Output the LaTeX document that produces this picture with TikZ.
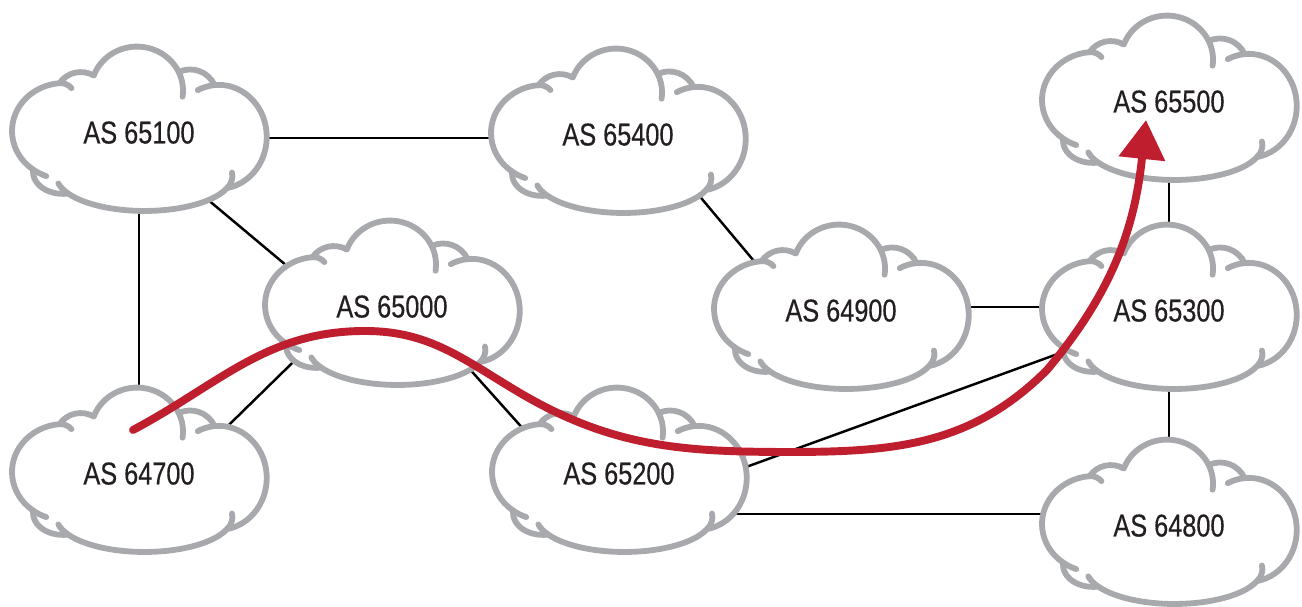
\documentclass[tikz,border=0pt]{standalone}
\usepackage{fontspec}
\newfontfamily\asfont{Liberation Sans}[FakeStretch=0.8,FakeBold=0.4]
\usetikzlibrary{arrows.meta}
\definecolor{kloudgray}{RGB}{167,169,172}
\definecolor{routered}{RGB}{190,30,45}
\definecolor{astext}{RGB}{35,31,32}
\pgfdeclarelayer{links}
\pgfdeclarelayer{clouds}
\pgfsetlayers{links,clouds,main}

\begin{document}
\begin{tikzpicture}[x=0.02cm, y=0.02cm,
	asnode/.style={ font=\asfont\fontsize{18}{20}\selectfont, text=astext, inner sep=0pt, text height=0.58cm, text depth=0pt },
	link/.style={ black, line width=1.4pt },
	route/.style={ routered, line width=4.5pt, line cap=round, -{Triangle[length=0.78cm,width=0.9cm]} },
	kloud/.pic={
		\filldraw[kloudgray, fill=white, line width=3.3pt, line join=round] (-107,-39.8)
			arc[start angle=232, end angle=95, x radius=52, y radius=48]
			arc[start angle=145, end angle=60, radius=26]
			arc[start angle=160, end angle=25, x radius=46, y radius=44]
			arc[start angle=115, end angle=25, radius=27]
			arc[start angle=95, end angle=-80, x radius=48, y radius=52]
			arc[start angle=-20, end angle=-150, x radius=88, y radius=34.8]
			arc[start angle=-80, end angle=-185, x radius=30, y radius=22] -- cycle;
		\draw[kloudgray, line width=3.3pt, line cap=round]
			(-79.5,45.8) arc[start angle=95, end angle=40, radius=14]
			(39.7,57) arc[start angle=25, end angle=-8, x radius=46, y radius=44]
			(75.6,43.9) arc[start angle=95, end angle=116, x radius=48, y radius=52]
			(88.1,-59.1) arc[start angle=-20, end angle=6, x radius=88, y radius=34.8]
			(-70.8,-64.6) arc[start angle=-150, end angle=-168, x radius=88, y radius=34.8]
			(-107,-39.8) arc[start angle=232, end angle=250, x radius=52, y radius=48];
	}
]
\useasboundingbox (0,0) rectangle (1302,607);

\node[asnode] at (139,478) (as65100) {AS 65100};
\node[asnode] at (618,476) (as65400) {AS 65400};
\node[asnode] at (1169,509) (as65500) {AS 65500};
\node[asnode] at (392,304) (as65000) {AS 65000};
\node[asnode] at (841,300) (as64900) {AS 64900};
\node[asnode] at (1169,300) (as65300) {AS 65300};
\node[asnode] at (139,137) (as64700) {AS 64700};
\node[asnode] at (619,137) (as65200) {AS 65200};
\node[asnode] at (1169,85) (as64800) {AS 64800};

\begin{pgfonlayer}{links}
\draw[link] ([shift={(0,-9)}]as65100.center) -- ([shift={(0,-7)}]as65400.center);
\draw[link] ([shift={(31,-39)}]as65100.center) -- ([shift={(-62,1)}]as65000.center);
\draw[link] ([shift={(-62,-23)}]as65000.center) -- ([shift={(51,7)}]as64700.center);
\draw[link] ([shift={(48,-33)}]as65000.center) -- ([shift={(-59,0)}]as65200.center);
\draw[link] ([shift={(42,-18)}]as65400.center) -- ([shift={(-51,3)}]as64900.center);
\draw[link] ([shift={(61,-21)}]as65200.center) -- ([shift={(-59,-28)}]as65300.center);
\draw[link] ([shift={(0,-44)}]as65200.center) -- ([shift={(0,8)}]as64800.center);
\foreach \a/\b in {as65100/as64700,as64900/as65300,as65500/as65300,as65300/as64800}
	\draw[link] (\a) -- (\b);
\end{pgfonlayer}

\begin{pgfonlayer}{clouds}
\foreach \n in {as65100,as65400,as65500,as65000,as64900,as65300,as64700,as65200,as64800}
	\pic at (\n.center) {kloud};
\end{pgfonlayer}

\draw[route] ([shift={(-6,40)}]as64700.center) to[out=28,in=180] (365,276)
	to[out=0,in=149] (515,217) to[out=-31,in=180] (790,155)
	to[out=0,in=-135] (1047,237) to[out=50,in=-96] ([shift={(-23,-22)}]as65500.center);

\end{tikzpicture}
\end{document}
